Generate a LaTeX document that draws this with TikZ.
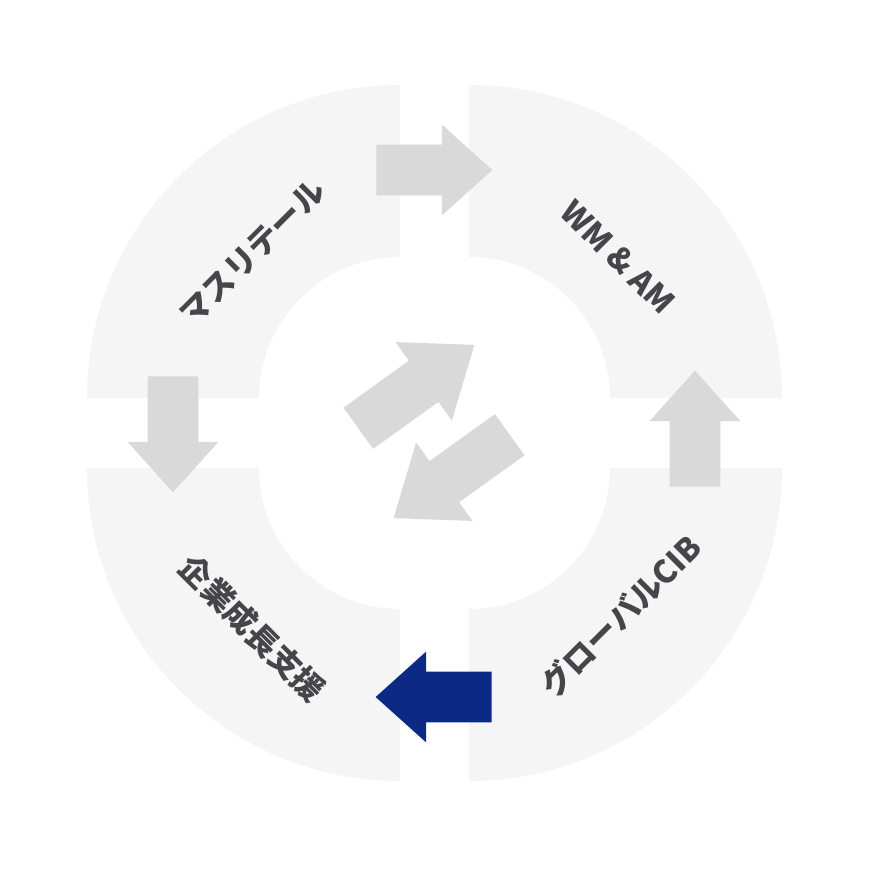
\documentclass[tikz,border=0pt]{standalone}
\usepackage{fontspec}
\setmainfont{Noto Sans CJK JP}
\usetikzlibrary{shapes.arrows}
\definecolor{ringgray}{HTML}{F5F5F6}
\definecolor{arrowgray}{HTML}{D9D9D9}
\definecolor{darknavy}{HTML}{0C2A85}
\definecolor{textgray}{HTML}{45454A}

\begin{document}
\begin{tikzpicture}[x=0.02cm,y=0.02cm,
    blockarrow/.style={single arrow,fill=arrowgray,inner xsep=0pt,inner ysep=0.5cm,anchor=tail,minimum height=2.32cm,single arrow head extend=0.4cm,single arrow tip angle=84},
    midarrow/.style={blockarrow,minimum height=2.86cm,single arrow head extend=0.46cm,single arrow tip angle=75.5},
    segtext/.style={text=textgray,inner sep=0pt,font=\bfseries\fontsize{18}{22}\selectfont}]
    \fill[white] (-434.5,-437) rectangle (435.5,433);
    % four quarters of the ring
    \foreach \sx/\sy/\a in {-1/1/90,1/1/0,-1/-1/180,1/-1/270}{
        \begin{scope}[shift={({\sx*34.5},{\sy*35})}]
            \fill[ringgray] (\a:313) arc[start angle=\a,delta angle=90,radius=313]
                -- (\a+90:141) arc[start angle=\a+90,delta angle=-90,radius=141] -- cycle;
        \end{scope}
    }
    \node[blockarrow] (a1) at (-58.5,263) {};
    \node[blockarrow,rotate=90] (a2) at (260.5,-54) {};
    \node[blockarrow,rotate=180,fill=darknavy] (a3) at (57.5,-264) {};
    \node[blockarrow,rotate=-90] (a4) at (-261.5,57) {};
    \node[midarrow,rotate=35.7] (m1) at (-76.5,4.5) {};
    \node[midarrow,rotate=215.7] (m2) at (75.5,-1.5) {};
    \node[segtext,rotate=45] (retail) at (-182,180.5) {マスリテール};
    \node[segtext,rotate=-45] (wmam) at (184,176) {WM \& AM};
    \node[segtext,rotate=-45] (corp) at (-182,-195.5) {企業成長支援};
    \node[segtext,rotate=45] (cib) at (186,-183) {グローバルCIB};
\end{tikzpicture}
\end{document}
